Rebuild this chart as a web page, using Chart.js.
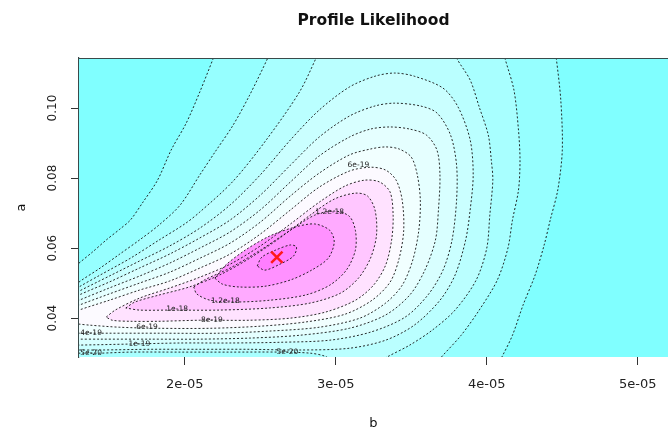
<!DOCTYPE html>
<html>
<head>
<meta charset="utf-8">
<script src="https://cdn.jsdelivr.net/npm/chart.js@4.4.1/dist/chart.umd.min.js"></script>
<style>
html,body{margin:0;padding:0;background:#fff;}
#wrap{width:668px;height:431px;}
</style>
</head>
<body>
<div id="wrap"><canvas id="c" width="668" height="431"></canvas></div>
<script>
// ---------- axis ticks ----------
const bTicks = [2e-5, 3e-5, 4e-5, 5e-5];
const bTickLabels = ['2e-05', '3e-05', '4e-05', '5e-05'];
const aTicks = [0.04, 0.06, 0.08, 0.10];
const aTickLabels = ['0.04', '0.06', '0.08', '0.10'];
const bUnit = 1e-5; // b values below are in units of 1e-5

// ---------- contour lines (b in 1e-5, a) ----------
const c1LeftB  = [1.24,1.30,1.39,1.48,1.57,1.64,1.72,1.82,1.91,2.01,2.10,2.19,2.21];
const c1LeftA  = [.0534,.0557,.0589,.0623,.0654,.0680,.0729,.0794,.0880,.0957,.1046,.1143,.1166];
const c1RightB = [4.45,4.46,4.49,4.50,4.47,4.42,4.38,4.32,4.24,4.17,4.10,4.07];
const c1RightA = [.1166,.1143,.1023,.0880,.0766,.0680,.0609,.0523,.0437,.0351,.0289,.0266];

const c2LeftB  = [1.24,1.30,1.44,1.57,1.70,1.83,1.97,2.10,2.20,2.32,2.43,2.55,2.57];
const c2LeftA  = [.0480,.0503,.0543,.0583,.0623,.0666,.0723,.0809,.0874,.0951,.1037,.1143,.1166];
const c2RightB = [4.11,4.12,4.18,4.21,4.22,4.21,4.17,4.14,4.07,3.95,3.83,3.70,3.66];
const c2RightA = [.1166,.1143,.1051,.0937,.0851,.0766,.0680,.0600,.0509,.0423,.0351,.0289,.0266];

const c3LeftB  = [1.24,1.30,1.44,1.64,1.83,2.00,2.10,2.32,2.54,2.76,2.87,2.89];
const c3LeftA  = [.0471,.0489,.0523,.0571,.0623,.0669,.0703,.0791,.0909,.1046,.1143,.1166];
const c3RightB = [3.79,3.80,3.89,3.95,4.01,4.03,4.04,4.02,4.00,3.93,3.79,3.64,3.49,3.34,3.29];
const c3RightA = [.1166,.1143,.1080,.1003,.0923,.0851,.0794,.0694,.0600,.0509,.0423,.0366,.0323,.0289,.0274];
const c3LowB   = [2.99,2.93,2.83,2.63,2.30,1.97,1.64,1.44,1.30,1.24];
const c3LowA   = [.0274,.0291,.0300,.0303,.0303,.0303,.0303,.0300,.0300,.0300];

const c4B = [1.24,1.30,1.50,1.70,1.90,2.10,2.30,2.50,2.70,2.89,3.09,3.26,3.39,3.52,3.71,3.81,3.89,3.91,3.89,3.86,3.79,3.69,3.52,3.33,3.09,2.76,2.43,2.10,1.77,1.44,1.30,1.24];
const c4A = [.0463,.0477,.0520,.0563,.0606,.0657,.0723,.0809,.0909,.0994,.1060,.1091,.1100,.1091,.1057,.1003,.0909,.0809,.0709,.0623,.0523,.0451,.0380,.0337,.0314,.0309,.0311,.0311,.0311,.0309,.0309,.0309];
const c5B = [1.24,1.30,1.50,1.70,1.90,2.10,2.30,2.50,2.70,2.89,3.09,3.26,3.39,3.56,3.67,3.76,3.80,3.80,3.77,3.71,3.61,3.46,3.23,2.96,2.63,2.30,1.97,1.64,1.30,1.24];
const c5A = [.0451,.0466,.0503,.0543,.0583,.0629,.0680,.0751,.0837,.0917,.0977,.1006,.1014,.1006,.0986,.0923,.0837,.0737,.0623,.0537,.0466,.0403,.0360,.0337,.0331,.0329,.0329,.0326,.0323,.0323];
const c6B = [1.24,1.30,1.50,1.70,1.90,2.10,2.30,2.50,2.70,2.89,3.09,3.23,3.36,3.49,3.60,3.67,3.69,3.68,3.66,3.59,3.49,3.33,3.09,2.76,2.43,2.10,1.77,1.44,1.30,1.24];
const c6A = [.0440,.0451,.0486,.0520,.0557,.0600,.0646,.0709,.0789,.0863,.0917,.0940,.0946,.0940,.0923,.0880,.0809,.0709,.0623,.0537,.0466,.0409,.0371,.0351,.0343,.0340,.0340,.0340,.0340,.0340];
const c7B = [1.24,1.30,1.50,1.70,1.90,2.10,2.30,2.50,2.70,2.89,3.09,3.23,3.33,3.42,3.50,3.54,3.56,3.55,3.51,3.44,3.33,3.16,2.89,2.56,2.23,1.83,1.50,1.30,1.24];
const c7A = [.0426,.0437,.0469,.0500,.0531,.0571,.0614,.0674,.0749,.0814,.0866,.0883,.0889,.0883,.0860,.0809,.0737,.0651,.0566,.0494,.0443,.0400,.0374,.0363,.0357,.0357,.0357,.0357,.0357];
const c8B = [1.24,1.30,1.50,1.70,1.90,2.10,2.30,2.50,2.70,2.89,3.09,3.23,3.33,3.40,3.44,3.45,3.42,3.36,3.24,3.06,2.80,2.50,2.17,1.83,1.57,1.37,1.30,1.24];
const c8A = [.0411,.0423,.0451,.0480,.0506,.0543,.0583,.0640,.0709,.0774,.0820,.0831,.0823,.0794,.0737,.0651,.0571,.0503,.0451,.0411,.0389,.0377,.0371,.0371,.0374,.0380,.0383,.0386];

const c9B  = [1.48,1.54,1.70,1.90,2.10,2.30,2.50,2.70,2.89,3.06,3.19,3.29,3.36,3.38,3.37,3.33,3.25,3.13,2.93,2.70,2.43,2.10,1.83,1.64,1.52,1.48];
const c9A  = [.0403,.0423,.0457,.0486,.0517,.0554,.0606,.0669,.0731,.0777,.0794,.0789,.0760,.0694,.0623,.0551,.0494,.0451,.0417,.0400,.0394,.0394,.0391,.0391,.0394,.0403];
const c10B = [1.61,1.67,1.83,2.03,2.23,2.43,2.63,2.83,2.99,3.13,3.21,3.26,3.27,3.23,3.15,3.03,2.83,2.56,2.23,1.90,1.70,1.61];
const c10A = [.0429,.0446,.0466,.0489,.0523,.0571,.0629,.0694,.0740,.0757,.0749,.0709,.0637,.0571,.0514,.0471,.0443,.0429,.0423,.0423,.0423,.0429];
const c11B = [2.06,2.13,2.30,2.50,2.70,2.86,2.99,3.09,3.13,3.13,3.07,2.96,2.80,2.56,2.33,2.17,2.08,2.06];
const c11A = [.0489,.0509,.0543,.0594,.0651,.0694,.0706,.0691,.0651,.0594,.0537,.0494,.0466,.0451,.0446,.0451,.0469,.0489];
const c12B = [2.20,2.27,2.40,2.56,2.73,2.86,2.96,2.99,2.95,2.84,2.70,2.53,2.36,2.25,2.20];
const c12A = [.0514,.0551,.0594,.0634,.0660,.0669,.0651,.0617,.0571,.0537,.0509,.0491,.0489,.0497,.0514];
const c13B = [2.48,2.51,2.60,2.70,2.74,2.72,2.63,2.53,2.48];
const c13A = [.0549,.0574,.0594,.0609,.0603,.0577,.0554,.0537,.0549];

// maximum likelihood estimate
const mleB = [2.61];
const mleA = [0.0574];

// contour labels
const labelText = ['6e-19','1.2e-18','1.2e-18','1e-18','8e-19','6e-19','4e-19','1e-19','5e-20','5e-20'];
const labelB = [3.15,2.96,2.27,1.95,2.18,1.75,1.38,1.70,1.38,2.68];
const labelA = [.0837,.0703,.0449,.0426,.0394,.0374,.0357,.0326,.0300,.0303];

// ---------- styles ----------
const bgColor = 'rgb(128,255,255)';
const bandColors = [
  'rgb(150,255,255)','rgb(168,255,255)','rgb(186,255,255)','rgb(202,255,255)',
  'rgb(216,255,255)','rgb(229,255,255)','rgb(241,255,255)','rgb(252,250,255)',
  'rgb(255,226,255)','rgb(255,198,255)','rgb(255,170,255)','rgb(255,145,255)','rgb(255,126,255)'
];

// ---------- build tables ----------
const pts = (bs, as) => bs.map((b, i) => ({x: b * bUnit, y: as[i]}));
const OUT_L = 1.1, OUT_T = 0.125, OUT_B = 0.02;
const P = (b, a) => ({x: b * bUnit, y: a});
const last = arr => arr[arr.length - 1];

const polys = [];
[[c1LeftB,c1LeftA,c1RightB,c1RightA],[c2LeftB,c2LeftA,c2RightB,c2RightA]].forEach(([lb,la,rb,ra]) => {
  polys.push([].concat(
    pts(lb, la), [P(last(lb), OUT_T), P(rb[0], OUT_T)], pts(rb, ra),
    [P(last(rb), OUT_B), P(OUT_L, OUT_B), P(OUT_L, la[0])]
  ));
});
polys.push([].concat(
  pts(c3LeftB, c3LeftA), [P(last(c3LeftB), OUT_T), P(c3RightB[0], OUT_T)], pts(c3RightB, c3RightA),
  [P(last(c3RightB), OUT_B), P(c3LowB[0], OUT_B)], pts(c3LowB, c3LowA),
  [P(OUT_L, last(c3LowA)), P(OUT_L, c3LeftA[0])]
));
[[c4B,c4A],[c5B,c5A],[c6B,c6A],[c7B,c7A],[c8B,c8A]].forEach(([bs, as]) => {
  polys.push([].concat(pts(bs, as), [P(OUT_L, last(as)), P(OUT_L, as[0])]));
});
[[c9B,c9A],[c10B,c10A],[c11B,c11A],[c12B,c12A],[c13B,c13A]].forEach(([bs, as]) => {
  polys.push(pts(bs, as));
});

const lines = [
  [c1LeftB,c1LeftA],[c1RightB,c1RightA],[c2LeftB,c2LeftA],[c2RightB,c2RightA],
  [c3LeftB,c3LeftA],[c3RightB,c3RightA],[c3LowB,c3LowA],
  [c4B,c4A],[c5B,c5A],[c6B,c6A],[c7B,c7A],[c8B,c8A],
  [c9B,c9A],[c10B,c10A],[c11B,c11A],[c12B,c12A],[c13B,c13A]
];

const TENSION = 0.3;
const datasets = [];
polys.forEach((poly, k) => {
  datasets.push({
    data: poly, fill: 'shape', backgroundColor: bandColors[k],
    borderColor: 'rgba(0,0,0,0)', borderWidth: 0, pointRadius: 0,
    tension: TENSION, capBezierPoints: false, order: 100 - k
  });
});
lines.forEach(([bs, as]) => {
  datasets.push({
    data: pts(bs, as), fill: false, borderColor: 'rgba(20,20,20,0.9)', borderWidth: 1,
    borderDash: [2, 2], pointRadius: 0, tension: TENSION, capBezierPoints: false, order: 10
  });
});
datasets.push({
  data: pts(mleB, mleA), showLine: false, pointStyle: 'crossRot', pointRadius: 8,
  pointBorderColor: '#ff1a1a', pointBackgroundColor: '#ff1a1a', pointBorderWidth: 2.5, order: 0
});

const deco = {
  id: 'deco',
  beforeDatasetsDraw(chart) {
    const {ctx, chartArea: ca} = chart;
    ctx.save();
    ctx.fillStyle = bgColor;
    ctx.fillRect(ca.left, ca.top, ca.right - ca.left, ca.bottom - ca.top);
    ctx.restore();
  },
  afterDatasetsDraw(chart) {
    const {ctx, chartArea: ca, scales} = chart;
    ctx.save();
    ctx.font = '7.5px "DejaVu Sans"';
    ctx.fillStyle = '#222';
    ctx.textAlign = 'center';
    ctx.textBaseline = 'middle';
    labelText.forEach((t, i) => {
      ctx.fillText(t, scales.x.getPixelForValue(labelB[i] * bUnit), scales.y.getPixelForValue(labelA[i]));
    });
    ctx.strokeStyle = '#3a4a4a';
    ctx.lineWidth = 1.2;
    ctx.beginPath();
    ctx.moveTo(ca.left, ca.top + 0.5);
    ctx.lineTo(ca.right, ca.top + 0.5);
    ctx.stroke();
    ctx.restore();
  },
  afterDraw(chart) {
    const {ctx, chartArea: ca} = chart;
    ctx.save();
    ctx.font = 'bold 15.5px "DejaVu Sans"';
    ctx.fillStyle = '#111';
    ctx.textAlign = 'center';
    ctx.textBaseline = 'middle';
    ctx.fillText('Profile Likelihood', (ca.left + ca.right) / 2, 21);
    ctx.restore();
  }
};

Chart.defaults.font.family = '"DejaVu Sans", sans-serif';
new Chart(document.getElementById('c'), {
  type: 'line',
  data: {datasets},
  options: {
    responsive: false,
    animation: false,
    devicePixelRatio: 1,
    layout: {autoPadding: false, padding: {top: 58, left: 0, right: 0, bottom: 0}},
    plugins: {legend: {display: false}, tooltip: {enabled: false}, title: {display: false}},
    scales: {
      x: {
        type: 'linear', min: 1.3e-5, max: 5.2e-5,
        afterBuildTicks: s => { s.ticks = bTicks.map(v => ({value: v})); },
        afterFit: s => { s.height = 74; s.paddingLeft = 0; s.paddingRight = 0; s.paddingTop = 0; s.paddingBottom = 0; },
        ticks: {autoSkip: false, maxRotation: 0, padding: 12, color: '#222', font: {size: 13},
                callback: (v, i) => bTickLabels[i]},
        grid: {drawOnChartArea: false, drawTicks: true, tickLength: 8, color: '#333'},
        border: {display: false},
        title: {display: true, text: 'b', color: '#111', font: {size: 13}, padding: {top: 0, bottom: 0}}
      },
      y: {
        type: 'linear', min: 0.0289, max: 0.1143,
        afterBuildTicks: s => { s.ticks = aTicks.map(v => ({value: v})); },
        afterFit: s => { s.width = 79; s.paddingLeft = 0; s.paddingRight = 0; s.paddingTop = 0; s.paddingBottom = 0; },
        ticks: {autoSkip: false, minRotation: 90, maxRotation: 90, crossAlign: 'center', padding: 5,
                color: '#222', font: {size: 12}, callback: (v, i) => aTickLabels[i]},
        grid: {drawOnChartArea: false, drawTicks: true, tickLength: 8, color: '#333'},
        border: {display: true, color: '#3a4a4a', width: 1.2},
        title: {display: true, text: 'a', color: '#111', font: {size: 13}, padding: {top: 14, bottom: 0}}
      }
    }
  },
  plugins: [deco]
});
</script>
</body>
</html>
